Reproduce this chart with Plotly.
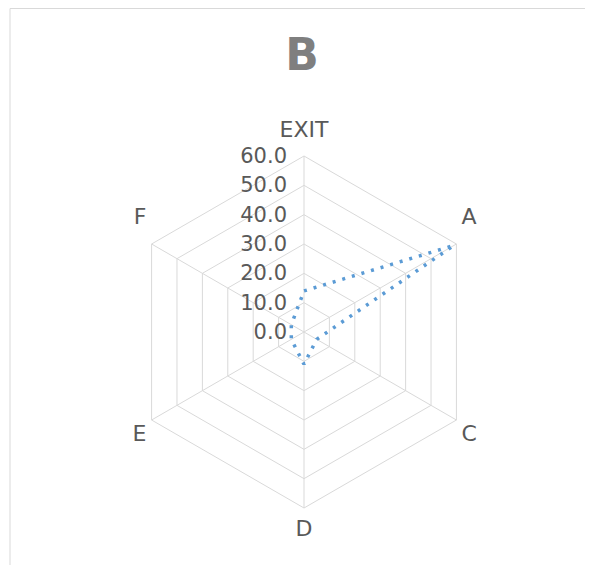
import plotly.graph_objects as go

categories = ["EXIT", "A", "C", "D", "E", "F"]
values = [14, 59, 5, 11, 5, 5]
tick_vals = [0, 10, 20, 30, 40, 50, 60]
tick_text = ["0.0", "10.0", "20.0", "30.0", "40.0", "50.0", "60.0"]

# label groups (Excel places labels at slightly different distances)
labels_far_text = ["EXIT", "", "", "", "", ""]
labels_near_text = ["", "A<br> ", "C", "D", "E", "F<br> "]

# page has an 8px body margin; figure sized to fill the rest of the window
OFF = 8
W, H = 593 - OFF, 565 - OFF
cx, cy, R = 304 - OFF, 332 - OFF, 176

FONT = "DejaVu Sans"
NB = "\u00a0"
GRID = "#d9d9d9"
LBL = dict(family=FONT, size=22, color="#595959")

domain = dict(x=[(cx - R) / W, (cx + R) / W], y=[(H - cy - R) / H, (H - cy + R) / H])

fig = go.Figure()
fig.add_trace(go.Scatterpolar(
    r=values + [values[0]],
    theta=categories + [categories[0]],
    mode="lines",
    line=dict(color="#5B9BD5", width=3.5, dash="3px,7px"),
    showlegend=False, subplot="polar",
))
# invisible carrier so the overlay subplot knows the categories
fig.add_trace(go.Scatterpolar(
    r=values, theta=categories, mode="lines",
    line=dict(color="rgba(0,0,0,0)", width=0),
    showlegend=False, hoverinfo="skip", subplot="polar2",
))

fig.update_layout(
    width=W, height=H,
    margin=dict(l=0, r=0, t=0, b=0),
    paper_bgcolor="white",
    plot_bgcolor="white",
    title=dict(text="<b>B</b>", x=(cx - 2) / W, xanchor="center", y=1 - (55 - OFF) / H, yanchor="middle",
               font=dict(family=FONT, size=44, color="#7f7f7f")),
    polar=dict(
        domain=domain,
        bgcolor="white",
        gridshape="linear",
        angularaxis=dict(
            rotation=90, direction="clockwise",
            categoryorder="array", categoryarray=categories,
            tickvals=categories, ticktext=labels_far_text,
            showline=True, linecolor=GRID, linewidth=1,
            gridcolor=GRID, gridwidth=1,
            ticks="outside", ticklen=10, tickcolor="rgba(0,0,0,0)",
            tickfont=LBL,
        ),
        radialaxis=dict(
            range=[0, 60], angle=90, tickangle=90,
            tickvals=tick_vals, ticktext=[t + NB + NB for t in tick_text],
            showline=False, gridcolor=GRID, gridwidth=1,
            ticks="", side="counterclockwise",
            tickfont=dict(family=FONT, size=21, color="#595959"),
        ),
    ),
    polar2=dict(
        domain=domain,
        bgcolor="rgba(0,0,0,0)",
        gridshape="linear",
        angularaxis=dict(
            rotation=90, direction="clockwise",
            categoryorder="array", categoryarray=categories,
            tickvals=categories, ticktext=labels_near_text,
            showline=False, showgrid=False,
            ticks="outside", ticklen=1, tickcolor="rgba(0,0,0,0)",
            tickfont=LBL,
        ),
        radialaxis=dict(
            range=[0, 60], visible=False, showgrid=False,
        ),
    ),
    shapes=[dict(type="rect", xref="paper", yref="paper",
                 x0=2 / W, x1=584 / W, y0=-0.02, y1=1 - 0.5 / H,
                 line=dict(color=GRID, width=1))],
)

fig.write_html("out.html")
